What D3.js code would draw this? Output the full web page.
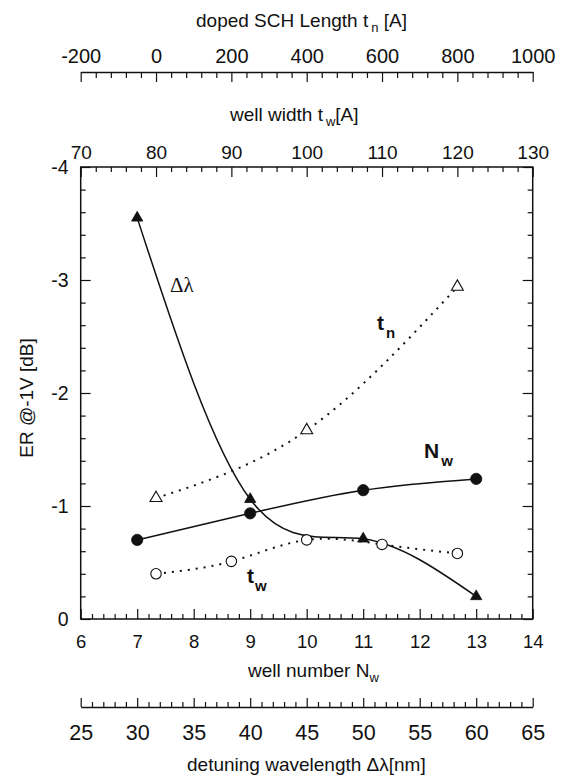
<!DOCTYPE html>
<html>
<head>
<meta charset="utf-8">
<script src="https://cdn.jsdelivr.net/npm/d3@7"></script>
<style>
  html, body { margin: 0; padding: 0; background: #fff; }
  svg { display: block; }
  text { fill: #111; font-family: "Liberation Sans", Arial, sans-serif; }
  .tick line { stroke: #111; stroke-width: 1.2; }
</style>
</head>
<body>
<svg id="chart" width="569" height="778"></svg>
<script>
// Well number sweep (filled circles, solid line)
const wellNumbers = [7, 9, 11, 13];
const wellNumberER = [-0.70, -0.935, -1.14, -1.24];

// Detuning wavelength sweep in nm (filled triangles, solid line)
const detuningNm = [30, 40, 50, 60];
const detuningER = [-3.55, -1.06, -0.71, -0.20];

// Doped SCH length sweep in Å (open triangles, dotted line)
const schLengths = [0, 400, 800];
const schLengthER = [-1.07, -1.67, -2.94];

// Well width sweep in Å (open circles, dotted line)
const wellWidths = [80, 90, 100, 110, 120];
const wellWidthER = [-0.40, -0.51, -0.70, -0.66, -0.58];

// Tick values for the five axes
const erTicks = [-4, -3, -2, -1, 0];
const nwTicks = [6, 7, 8, 9, 10, 11, 12, 13, 14];
const detTicks = [25, 30, 35, 40, 45, 50, 55, 60, 65];
const twTicks = [70, 80, 90, 100, 110, 120, 130];
const tnTicks = [-200, 0, 200, 400, 600, 800, 1000];

const svg = d3.select("#chart");
const L = 80.7, R = 532.7, T = 167, B = 619;

const y = d3.scaleLinear().domain([-4, 0]).range([T, B]);
const xNw = d3.scaleLinear().domain([6, 14]).range([L, R]);
const xDet = d3.scaleLinear().domain([25, 65]).range([L, R]);
const xTw = d3.scaleLinear().domain([70, 130]).range([L, R]);
const xTn = d3.scaleLinear().domain([-200, 1000]).range([L, R]);

const minorOf = (lo, hi, step, majors) =>
  d3.range(lo, hi + step / 2, step)
    .map(v => +v.toFixed(6))
    .filter(v => !majors.some(m => Math.abs(m - v) < 1e-6));

function drawAxis(axisFn, scale, majors, minorStep, transform, opts) {
  const g = svg.append("g").attr("transform", transform);
  const minors = minorOf(scale.domain()[0], scale.domain()[1], minorStep, majors);
  g.append("g").call(axisFn(scale).tickValues(minors).tickFormat("")
    .tickSizeInner(opts.minor).tickSizeOuter(0))
    .call(s => s.select(".domain").remove());
  const major = g.append("g").call(axisFn(scale).tickValues(majors)
    .tickFormat(opts.labels ? (d => `${d}`) : "")
    .tickSizeInner(opts.major).tickSizeOuter(0).tickPadding(opts.pad || 0));
  major.select(".domain").attr("stroke", opts.domain ? "#111" : "none").attr("stroke-width", 1.5);
  major.selectAll("text").style("font-size", (opts.fs || 19) + "px")
    .attr("font-family", "Liberation Sans, Arial, sans-serif").attr("fill", "#111");
  return g;
}

// Plot frame
svg.append("rect").attr("x", L).attr("y", T).attr("width", R - L).attr("height", B - T)
  .attr("fill", "none").attr("stroke", "#111").attr("stroke-width", 1.5);

// ER axis (left, labelled) and its mirror (right)
drawAxis(d3.axisLeft, y, erTicks, 0.2, `translate(${L},0)`, { major: -10, minor: -5, labels: true, pad: 12, fs: 19.5 });
drawAxis(d3.axisRight, y, erTicks, 0.2, `translate(${R},0)`, { major: -10, minor: -5, labels: false });

// Well number axis on the frame bottom
drawAxis(d3.axisBottom, xNw, nwTicks, 0.2, `translate(0,${B})`, { major: -10, minor: -5, labels: true, pad: 16, fs: 18.5 });

// Well width axis on the frame top
drawAxis(d3.axisTop, xTw, twTicks, 2, `translate(0,${T})`, { major: -10, minor: -5, labels: true, pad: 8, fs: 19 });

// Doped SCH length axis, detached above
drawAxis(d3.axisTop, xTn, tnTicks, 40, `translate(0,72)`, { major: -10, minor: -6, labels: true, pad: 9, fs: 20, domain: true });

// Detuning wavelength axis, detached below
drawAxis(d3.axisBottom, xDet, detTicks, 1, `translate(0,707)`, { major: -9, minor: -5, labels: true, pad: 17.5, fs: 21.5, domain: true });

// Axis titles
const title = (x, yy, main, sub, tail, subDx) => {
  const t = svg.append("text").attr("x", x).attr("y", yy).style("font-size", "19px").text(main);
  t.append("tspan").attr("dx", subDx).attr("dy", 5).style("font-size", "13px").text(sub);
  if (tail) t.append("tspan").attr("dy", -5).text(tail);
};
title(196, 27, "doped SCH Length t", "n", " [A]", 3);
title(230, 121, "well width t", "w", "[A]", 3);
title(248, 677, "well number N", "w", null, 0);
svg.append("text").attr("x", 187).attr("y", 771).style("font-size", "19px")
  .text("detuning wavelength Δλ[nm]");
svg.append("text").attr("transform", "translate(33,398) rotate(-90)")
  .attr("text-anchor", "middle").style("font-size", "19px").text("ER @-1V [dB]");

// Series curves
const series = [
  { xs: wellNumbers, ys: wellNumberER, sx: xNw, dash: null, shape: "circle", fill: true },
  { xs: detuningNm, ys: detuningER, sx: xDet, dash: null, shape: "triangle", fill: true },
  { xs: schLengths, ys: schLengthER, sx: xTn, dash: "2,6", shape: "triangle", fill: false },
  { xs: wellWidths, ys: wellWidthER, sx: xTw, dash: "2,6", shape: "circle", fill: false }
];

series.forEach(s => {
  const pts = s.xs.map((v, i) => [s.sx(v), y(s.ys[i])]);
  svg.append("path").attr("d", d3.line().curve(d3.curveNatural)(pts))
    .attr("fill", "none").attr("stroke", "#111")
    .attr("stroke-width", s.dash ? 2 : 1.5)
    .attr("stroke-dasharray", s.dash);
});

series.forEach(s => {
  const pts = s.xs.map((v, i) => [s.sx(v), y(s.ys[i])]);
  const sym = s.shape === "circle"
    ? d3.symbol(d3.symbolCircle, s.fill ? 100 : 86)
    : d3.symbol(d3.symbolTriangle, s.fill ? 55 : 62);
  svg.append("g").selectAll("path").data(pts).join("path")
    .attr("transform", d => `translate(${d[0]},${d[1]})`)
    .attr("d", sym)
    .attr("fill", s.fill ? "#111" : "#fff")
    .attr("stroke", "#111").attr("stroke-width", s.fill ? 0.8 : 1.1);
});

// Series labels
svg.append("text").attr("x", 170).attr("y", 292)
  .attr("font-family", "Liberation Serif, serif").style("font-family", "Liberation Serif, serif")
  .style("font-size", "21px").text("Δλ");
const seriesLabel = (x, yy, main, sub, dx) => {
  const t = svg.append("text").attr("x", x).attr("y", yy)
    .style("font-size", "21px").style("font-weight", "bold").text(main);
  t.append("tspan").attr("dx", dx).attr("dy", 8).style("font-size", "15px").text(sub);
};
seriesLabel(377, 330, "t", "n", 2);
seriesLabel(424, 458, "N", "w", 2);
seriesLabel(247, 583, "t", "w", 1);
</script>
</body>
</html>
